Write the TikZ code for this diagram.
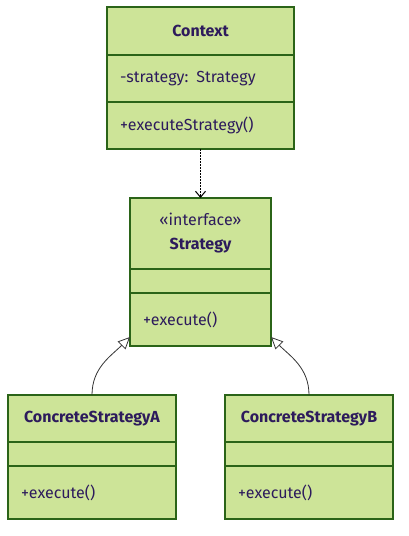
\documentclass[tikz,border=0pt]{standalone}
\usepackage{fontspec}
\setmainfont{Fira Sans}
\usetikzlibrary{positioning,arrows.meta}
\definecolor{classfill}{HTML}{CDE498}
\definecolor{classline}{HTML}{2B6418}
\definecolor{classtext}{HTML}{2D1B5C}
\definecolor{linkline}{HTML}{333333}

\begin{document}
\begin{tikzpicture}[x=1pt,y=1pt,
  box/.style={draw=classline,fill=classfill,line width=1.2pt,outer sep=0pt,
    text=classtext,font=\fontsize{16}{19}\selectfont},
  title/.style={box,font=\fontsize{16}{19}\selectfont\bfseries,align=center,inner sep=0pt},
  member/.style={box,align=left,inner xsep=13pt,inner ysep=0pt},
  realize/.style={-{Triangle[open,length=12pt,width=11pt,fill=white]},linkline,line width=0.8pt},
  uses/.style={-{Straight Barb[length=6pt,width=10pt]},black,line width=1pt,dash pattern=on 2pt off 1pt}]
\useasboundingbox (0,0) rectangle (409,-536);
% Context class
\node[title,anchor=north west,minimum width=187,minimum height=48] (ctx) at (107,-7) {Context};
\node[member,below=0pt of ctx,text width=161,minimum height=47] (ctxattr) {-strategy: Strategy};
\node[member,below=0pt of ctxattr,text width=161,minimum height=47] (ctxops) {+executeStrategy()};
% Strategy interface
\node[title,anchor=north west,minimum width=141,minimum height=71] (strat) at (130,-198)
  {{\mdseries\guillemotleft interface\guillemotright}\\[5pt]Strategy};
\node[member,below=0pt of strat,text width=115,minimum height=24] (stratattr) {};
\node[member,below=0pt of stratattr,text width=115,minimum height=53] (stratops) {+execute()};
% concrete strategies
\node[title,anchor=north west,minimum width=168,minimum height=47] (csa) at (8,-395) {ConcreteStrategyA};
\node[member,below=0pt of csa,text width=142,minimum height=24] (csaattr) {};
\node[member,below=0pt of csaattr,text width=142,minimum height=53] (csaops) {+execute()};
\node[title,anchor=north west,minimum width=168,minimum height=47] (csb) at (225,-395) {ConcreteStrategyB};
\node[member,below=0pt of csb,text width=142,minimum height=24] (csbattr) {};
\node[member,below=0pt of csbattr,text width=142,minimum height=53] (csbops) {+execute()};
% relations
\draw[uses] (ctxops.south) -- (strat.north);
\draw[realize] (csa.north) to[out=90,in=225] ([yshift=9pt]stratops.south west);
\draw[realize] (csb.north) to[out=90,in=-45] ([yshift=9pt]stratops.south east);
\end{tikzpicture}
\end{document}
